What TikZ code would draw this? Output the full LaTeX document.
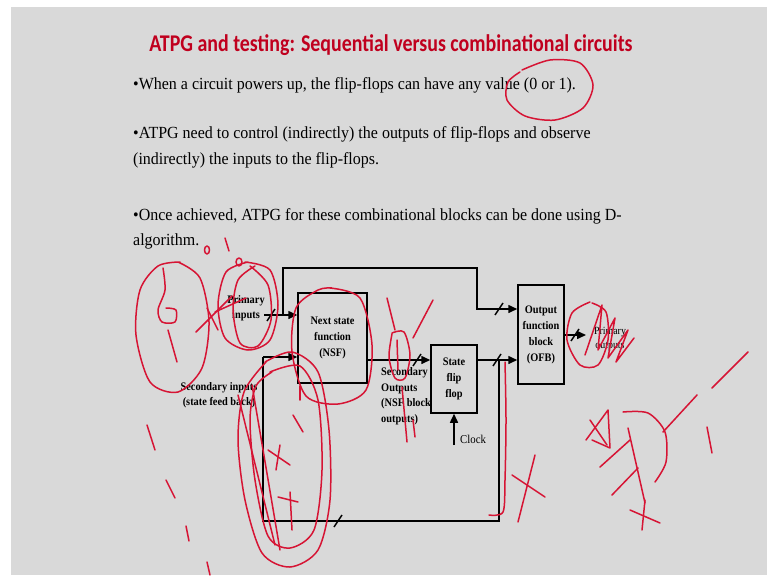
\documentclass[tikz,border=0pt]{standalone}
\usepackage{fontspec}
\setmainfont{Liberation Serif}[FakeStretch=0.9]
\newfontfamily\bodyfont{Liberation Serif}[FakeStretch=0.94]
\newfontfamily\titlefont{Carlito}[FakeStretch=0.83]
\usetikzlibrary{positioning,arrows,arrows.meta}
\definecolor{slidebg}{RGB}{217,217,217}
\definecolor{titlered}{RGB}{192,0,30}
\definecolor{penred}{RGB}{214,20,52}
\tikzstyle{block}=[rectangle, draw=black, line width=1.5pt, font=\fontsize{11.5}{16}\selectfont\bfseries,
        align=center, inner sep=0pt]
\tikzstyle{sig}=[line width=1.5pt]
\tikzstyle{sigarrow}=[->, >={Triangle[length=9pt,width=8pt]}, line width=1.5pt]
\tikzstyle{lbl}=[font=\fontsize{11.5}{15.5}\selectfont\bfseries, align=center, inner sep=0pt]
\tikzstyle{bullet}=[anchor=base west, inner sep=0pt, font=\bodyfont\fontsize{17}{20}\selectfont]
\tikzstyle{ink}=[draw=penred, line width=1.5pt, line cap=round, line join=round]
\newcommand{\busmark}[1]{\draw[sig] ([shift={(-4pt,-6pt)}]#1) -- ([shift={(4pt,6pt)}]#1);}

\begin{document}
\begin{tikzpicture}[x=1pt,y=-1pt]
	\fill[white] (0,0) rectangle (767,575);
	\fill[slidebg] (11,7) rectangle (767,575);
	\useasboundingbox (0,0) rectangle (767,575);

	% title and bullets
	\node (Title) [anchor=base, text=titlered, font=\titlefont\bfseries\fontsize{24}{28}\selectfont] at (391,52)
        {ATPG and testing: Sequential versus combinational circuits};
	\node (PowerUp) [bullet] at (133,89) {•When a circuit powers up, the flip-flops can have any value (0 or 1).};
	\node (Control) [bullet] at (133,138) {•ATPG need to control (indirectly) the outputs of flip-flops and observe};
	\node (ControlB) [bullet] at (133,164) {(indirectly) the inputs to the flip-flops.};
	\node (Dalg) [bullet] at (133,220) {•Once achieved, ATPG for these combinational blocks can be done using D-};
	\node (DalgB) [bullet] at (133,245) {algorithm.};

	% blocks
	\node (NSF) [block, minimum width=69pt, minimum height=90pt] at (332.5,338) {Next state\\function\\(NSF)};
	\node (SFF) [block, minimum width=46pt, minimum height=68pt] at (454,379) {State\\flip\\flop};
	\node (OFB) [block, minimum width=46pt, minimum height=99pt] at (541,334.5) {Output\\function\\block\\(OFB)};

	% labels
	\node (PrimIn) [lbl] at (246,308) {Primary\\inputs};
	\node (SecIn) [lbl] at (219,395) {Secondary inputs\\(state feed back)};
	\node (SecOut) [lbl, align=left, anchor=west] at (381,396) {Secondary\\Outputs\\(NSF block\\outputs)};
	\node (ClockLbl) [anchor=west, inner sep=0pt, font=\fontsize{12}{14}\selectfont] at (460,439) {Clock};
	\node (PrimOut) [lbl, font=\fontsize{11}{14}\selectfont] at (610,339) {Primary\\outputs};

	\coordinate (PinStart) at (264,315);
	\coordinate (Tap) at (283,315);
	\coordinate (TopTurn) at (477,268);
	\coordinate (SinCorner) at (263,357);
	\coordinate (FbTap) at (499,360);
	\coordinate (FbCorner) at (499,521);
	\coordinate (ClockIn) at (454,445);
	\coordinate (PoutEnd) at (586,335);
	\coordinate (NsfOut) at ([yshift=-22pt]NSF.east);

	\draw[sigarrow] (PinStart) -- (PinStart -| NSF.west);
	\draw[sigarrow] (Tap) |- (TopTurn) |- ([yshift=25.5pt]OFB.west);
	\draw[sigarrow] (SinCorner) -- (SinCorner -| NSF.west);
	\draw[sig] (FbTap) -- (FbCorner) -| (SinCorner);
	\draw[sigarrow] (NsfOut) -- (NsfOut -| SFF.west);
	\draw[sigarrow] (NsfOut -| SFF.east) -- (NsfOut -| OFB.west);
	\draw[sigarrow] (ClockIn) -- (SFF.south);
	\draw[sigarrow] (OFB.east |- PoutEnd) -- (PoutEnd);

	% bus widths
	\busmark{271,315}
	\busmark{499,309}
	\busmark{417,360}
	\busmark{497,360}
	\busmark{338,521}
	\busmark{575,335}

	% pen marks
	\draw[ink] plot[smooth] coordinates {(522,70) (550,60) (580,63) (593,85) (583,108) (555,120) (525,116) (507,100) (508,82) (520,72)};
	\draw[ink] plot[smooth] coordinates {(178,262) (200,278) (209,322) (202,368) (178,392) (150,382) (136,335) (140,290) (158,266) (180,262)};
	\draw[ink] plot[smooth] coordinates {(163,268) (165,290) (158,310) (162,322) (175,322) (176,310) (166,308)};
	\draw[ink] (168,330) -- (177,362);
	\draw[ink] (207,250) ellipse (2.5 and 4);
	\draw[ink] (225,238) -- (229,251);
	\draw[ink] (239,262) ellipse (3 and 4);
	\draw[ink] plot[smooth] coordinates {(245,262) (270,270) (278,305) (270,340) (248,350) (225,338) (218,305) (226,272) (248,262)};
	\draw[ink] plot[smooth] coordinates {(250,266) (268,285) (271,320) (258,346) (240,343) (233,310) (238,280) (255,266)};
	\draw[ink] (196,332) -- (232,296);
	\draw[ink] (207,308) -- (218,330);
	\draw[ink] (215,312) -- (246,298);
	\draw[ink] plot[smooth] coordinates {(330,288) (360,298) (372,345) (366,390) (338,404) (306,396) (292,352) (296,308) (318,290) (332,288)};
	\draw[ink] plot[smooth] coordinates {(265,362) (292,352) (318,372) (329,430) (330,500) (318,550) (290,567) (262,553) (245,500) (238,440) (244,392) (266,362)};
	\draw[ink] plot[smooth] coordinates {(270,372) (300,366) (318,400) (322,470) (314,530) (290,548) (268,536) (255,480) (250,420) (256,386) (272,372)};
	\draw[ink] (238,395) -- (275,545);
	\draw[ink] (252,385) -- (280,550);
	\draw[ink] (268,450) -- (290,465);
	\draw[ink] (280,445) -- (276,470);
	\draw[ink] (278,497) -- (298,502);
	\draw[ink] (290,492) -- (292,530);
	\draw[ink] (300,386) -- (300,400);
	\draw[ink] (293,415) -- (303,432);
	\draw[ink] (147,425) -- (155,450);
	\draw[ink] (166,480) -- (175,498);
	\draw[ink] (186,526) -- (189,541);
	\draw[ink] (207,562) -- (210,575);
	\draw[ink] (387,298) -- (395,330);
	\draw[ink] (413,338) -- (433,300);
	\draw[ink] plot[smooth] coordinates {(392,333) (404,332) (410,355) (405,378) (395,378) (389,357) (392,334)};
	\draw[ink] (402,387) -- (407,442);
	\draw[ink] (413,420) -- (415,437);
	\draw[ink] (397,340) -- (398,370);
	\draw[ink] plot[smooth] coordinates {(505,362) (506,420) (505,480) (503,512) (489,515)};
	\draw[ink] (512,475) -- (545,497);
	\draw[ink] (535,455) -- (518,522);
	\draw[ink] plot[smooth] coordinates {(592,303) (606,312) (608,340) (598,365) (580,365) (567,340) (572,313) (590,302)};
	\draw[ink] plot coordinates {(585,355) (602,305) (598,350) (615,318) (608,358) (628,330) (616,362) (634,338)};
	\draw[ink] (712,388) -- (748,352);
	\draw[ink] (663,432) -- (697,395);
	\draw[ink] plot[smooth] coordinates {(623,412) (648,413) (665,432) (666,462) (655,482)};
	\draw[ink] (707,427) -- (712,453);
	\draw[ink] plot coordinates {(586,440) (608,410) (610,448) (592,440)};
	\draw[ink] (590,420) -- (607,445);
	\draw[ink] (600,467) -- (630,440);
	\draw[ink] (612,495) -- (638,468);
	\draw[ink] (628,428) -- (645,503);
	\draw[ink] (630,510) -- (660,523);
	\draw[ink] (645,500) -- (642,530);
\end{tikzpicture}
\end{document}
